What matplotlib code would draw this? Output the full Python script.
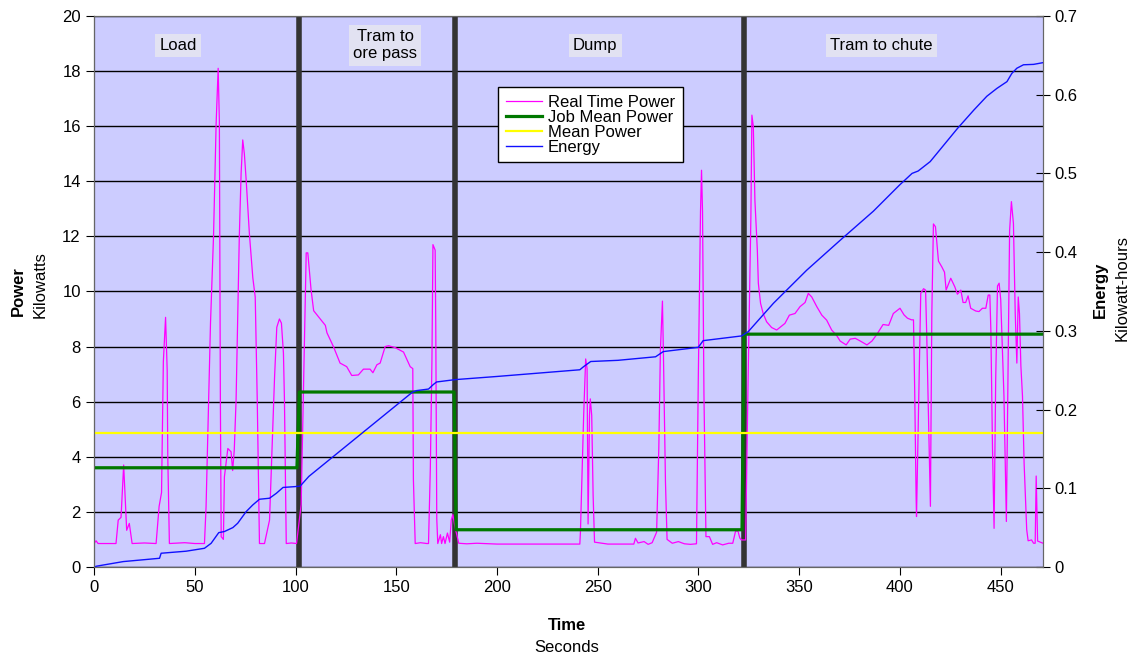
import matplotlib
matplotlib.use("Agg")
import matplotlib.pyplot as plt
from matplotlib.ticker import MultipleLocator, FuncFormatter

plt.rcParams['font.family'] = ['Liberation Sans', 'DejaVu Sans']

# Real time power (kW): time (s) and value
rt_time = [0, 1, 2, 4, 10.9, 12, 13.4, 14.7, 16.2, 17.5, 18.9, 25, 30.8, 32.3, 33.5, 34.4, 35.5, 36.3,
           36.6, 37.4, 45, 50, 54.8, 55.6, 57.8, 59.3, 60.6, 61.6, 62.2, 62.7, 63.1, 64.2, 64.7, 66.4,
           68.0, 68.8, 69.6, 70.5, 72.1, 73.0, 73.8, 74.6, 75.5, 77.1, 78.8, 80.0, 81.0, 82.1, 84.6,
           87.1, 89.6, 90.7, 92.0, 93.0, 94.0, 94.5, 95.4, 98, 100.5,
           102.8, 105.3, 106.1, 107.7, 109.0, 112.3, 114.8, 115.6, 118.8, 122.1, 125.4, 127.9, 131.2,
           133.7, 137, 138.4, 140.4, 142, 144.5, 146.2, 149.5, 153.6, 155.3, 156.9, 158.2, 158.5,
           159.4, 162, 165.2, 166, 166.9, 167.7, 168.2, 169.3, 169.6, 170.1, 170.6, 171.9, 172.5,
           173.4, 174.2, 175.4, 176.5, 177.3, 178.1, 179.0,
           181.0, 185, 190, 200, 220, 241.1, 241.4, 243.0, 244.0, 244.7, 245.2, 245.9, 246.3, 247.0,
           247.7, 248.4, 255, 267.9, 268.7, 270, 273, 275, 277, 279.2, 280.3, 281.1, 282.1, 282.6,
           283.6, 284.4, 287, 290, 293, 296, 299.0, 299.9, 301.0, 301.5, 302.0, 302.7, 303.7, 305.4,
           307, 309, 312, 315, 317, 318.4, 319.6, 320.5, 321.3,
           323.4, 324.6, 326.0, 326.5, 327.2, 328.0, 329.2, 329.7, 330.8, 332.1, 333.8, 336.3, 338.8,
           341.2, 342.9, 345.1, 347.9, 350.4, 352.9, 354.5, 356.2, 358.7, 361.2, 363.6, 366.1, 368.6,
           370.3, 373.3, 375.3, 377.8, 380.3, 383.6, 386.1, 388.6, 391.6, 394.4, 396.7, 400.0, 402.0,
           403.7, 405.7, 406.7, 407.3, 408.0, 408.2, 409.2, 410.3, 411.7, 412.7, 413.3, 414.1, 415.1,
           415.8, 416.6, 417.6, 419.1, 420.7, 422.1, 422.9, 425.2, 427.2, 428.5, 430.2, 431.3, 432.6,
           433.8, 435.1, 437.6, 439.2, 440.9, 442.6, 443.8, 444.6, 445.1, 445.9, 446.7, 447.5, 448.4,
           449.2, 450.0, 451.6, 452.8, 453.6, 454.4, 455.3, 456.3, 457.2, 458.0, 458.7, 459.3, 460.0,
           460.8, 461.6, 462.9, 463.6, 465.3, 466.3, 467.1, 467.6, 468.3, 471]
rt_power = [0.85, 0.95, 0.85, 0.85, 0.85, 1.7, 1.8, 3.7, 1.33, 1.58, 0.85, 0.87, 0.85, 2.2, 2.7, 7.45,
            9.06, 7.15, 4.0, 0.85, 0.88, 0.85, 0.85, 2.18, 8.85, 12.0, 16.1, 18.1, 16.2, 6.06, 1.1,
            1.0, 3.27, 4.3, 4.18, 3.5, 4.25, 6.06, 12.0, 14.3, 15.5, 15.0, 14.05, 12.1, 10.5, 9.8,
            6.06, 0.85, 0.85, 1.7, 6.9, 8.7, 9.0, 8.85, 7.76, 6.06, 0.85, 0.87, 0.85,
            2.27, 11.4, 11.4, 10.07, 9.3, 9.0, 8.77, 8.5, 8.0, 7.4, 7.27, 6.95, 6.97, 7.18, 7.18,
            7.05, 7.34, 7.4, 8.0, 8.03, 7.96, 7.8, 7.53, 7.27, 7.2, 3.18, 0.85, 0.88, 0.85, 0.85,
            3.57, 7.47, 11.7, 11.5, 8.77, 1.75, 0.85, 1.17, 0.85, 1.1, 0.85, 1.23, 0.9, 1.7, 1.9,
            1.5,
            0.86, 0.84, 0.86, 0.83, 0.83, 0.83, 1.26, 5.49, 7.55, 7.2, 1.56, 5.5, 6.1, 5.5, 2.6, 0.9,
            0.83, 0.83, 1.04, 0.87, 0.92, 0.82, 0.88, 1.26, 4.3, 7.9, 9.65, 7.7, 3.1, 1.0, 0.86, 0.92,
            0.84, 0.82, 0.84, 6.85, 12.9, 14.4, 12.9, 6.3, 1.1, 1.1, 0.82, 0.88, 0.8, 0.86, 0.86,
            1.3, 1.3, 1.05, 0.98,
            0.98, 6.7, 12.7, 16.4, 16.0, 13.3, 11.5, 10.3, 9.57, 9.2, 8.9, 8.69, 8.6, 8.74, 8.84, 9.14,
            9.2, 9.45, 9.6, 9.93, 9.8, 9.45, 9.14, 8.96, 8.6, 8.4, 8.2, 8.06, 8.27, 8.3, 8.2, 8.06,
            8.2, 8.45, 8.8, 8.77, 9.2, 9.39, 9.15, 9.03, 8.97, 8.97, 6.43, 2.56, 1.83, 5.6, 9.93,
            10.1, 10.05, 8.35, 5.6, 2.2, 9.2, 12.45, 12.35, 11.1, 10.9, 10.7, 10.05, 10.48, 10.17,
            9.9, 10.05, 9.6, 9.6, 9.84, 9.39, 9.29, 9.27, 9.39, 9.39, 9.87, 9.87, 8.6, 4.36, 1.4,
            6.8, 10.2, 10.3, 9.7, 6.2, 1.65, 6.8, 12.2, 13.26, 12.47, 9.2, 7.4, 9.8, 9.2, 7.3, 6.2,
            3.77, 1.35, 0.95, 0.98, 0.86, 0.86, 3.3, 0.94, 0.86]

# Job mean power (kW) per phase, drawn as steps
job_time = [0, 100.7, 101.9, 178.7, 179.7, 321.6, 322.6, 471]
job_power = [3.6, 3.6, 6.35, 6.35, 1.35, 1.35, 8.45, 8.45]

# Mean power over the whole cycle (kW)
mean_power = 4.88

# Cumulative energy (kWh)
en_time = [0, 1.3, 14.5, 32.5, 33.3, 45.7, 54.8, 58.1, 61.9, 64.7, 68.9, 71.3, 75.5, 78.8, 82.1,
           87.1, 90.5, 93.8, 99.5, 102.3, 106.6, 158, 160, 166, 168.5, 170, 179.3, 200, 241.1,
           243.0, 246.5, 260, 278.7, 282.5, 299.9, 302.3, 321.4, 324.7, 337.2, 353.7, 370.3,
           386.8, 399.7, 406, 409, 415, 428.5, 436.7, 443.1, 448.1, 453.1, 455.5, 458,
           461.3, 466.3, 471]
energy = [0, 0.001, 0.0068, 0.011, 0.0174, 0.020, 0.0237, 0.030, 0.0436, 0.045, 0.050, 0.0555,
          0.0703, 0.0788, 0.086, 0.0873, 0.0936, 0.101, 0.102, 0.1027, 0.115, 0.222, 0.224, 0.226,
          0.232, 0.235, 0.238, 0.242, 0.2505, 0.2545, 0.261, 0.2625, 0.267, 0.2736, 0.279, 0.2875,
          0.2935, 0.299, 0.335, 0.377, 0.415, 0.452, 0.485, 0.5, 0.503, 0.515, 0.557, 0.5806,
          0.598, 0.608, 0.6166, 0.627, 0.6336, 0.638, 0.6385, 0.6407]

# Phase boundaries (s) and phase names
phase_edges = [101.5, 179.3, 322.6]
phase_names = ['Load', 'Tram to\nore pass', 'Dump', 'Tram to chute']
phase_label_x = [0.0885, 0.3066, 0.528, 0.830]

fig = plt.figure(figsize=(11.33, 6.6), dpi=100)
ax = fig.add_axes([0.083, 0.141, 0.8376, 0.8348])
ax.set_facecolor('#ccccff')
ax.set_xlim(0, 471)
ax.set_ylim(0, 20)
ax.yaxis.set_major_locator(MultipleLocator(2))
ax.xaxis.set_major_locator(MultipleLocator(50))
ax.grid(axis='y', color='black', linewidth=1.0)
ax.set_axisbelow(True)

for t in phase_edges:
    ax.axvline(t, color='#333333', linewidth=4, zorder=2)

l1, = ax.plot(rt_time, rt_power, color='#ff00ff', linewidth=0.9, zorder=3, label='Real Time Power')
l2, = ax.plot(job_time, job_power, color='#007800', linewidth=2.3, zorder=4, label='Job Mean Power')
l3 = ax.axhline(mean_power, color='#ffff00', linewidth=1.6, zorder=4, label='Mean Power')

ax2 = ax.twinx()
ax2.set_ylim(0, 0.7)
ax2.yaxis.set_major_locator(MultipleLocator(0.1))
ax2.yaxis.set_major_formatter(FuncFormatter(lambda v, p: '0' if abs(v) < 1e-9 else f'{v:.1f}'))
l4, = ax2.plot(en_time, energy, color='#1010ff', linewidth=1.0, label='Energy')

for a in (ax, ax2):
    for s in a.spines.values():
        s.set_color('#666666')
ax.spines['left'].set_color('black')
ax.tick_params(axis='both', labelsize=12, direction='out', length=6, color='black')
ax2.tick_params(axis='y', labelsize=12, direction='inout', length=10, color='black')

for name, xf in zip(phase_names, phase_label_x):
    ax2.text(xf, 0.947, name, transform=ax.transAxes, ha='center', va='center', fontsize=12,
             bbox=dict(boxstyle='square,pad=0.25', facecolor='#e2e2f2', edgecolor='none'))

leg = ax2.legend([l1, l2, l3, l4], ['Real Time Power', 'Job Mean Power', 'Mean Power', 'Energy'],
                 loc='upper left', bbox_to_anchor=(0.4257, 0.871), borderaxespad=0,
                 fontsize=12, fancybox=False, framealpha=1, edgecolor='black',
                 labelspacing=0.0, handlelength=2.2, handletextpad=0.35, borderpad=0.45)
leg.get_frame().set_linewidth(1.0)

fig.text(18 / 1133, 1 - 291 / 660, 'Power', rotation=90, ha='center', va='center',
         fontsize=12, fontweight='bold')
fig.text(40 / 1133, 1 - 285 / 660, 'Kilowatts', rotation=90, ha='center', va='center', fontsize=12)
fig.text(1100 / 1133, 1 - 290 / 660, 'Energy', rotation=90, ha='center', va='center',
         fontsize=12, fontweight='bold')
fig.text(1122 / 1133, 1 - 288 / 660, 'Kilowatt-hours', rotation=90, ha='center', va='center',
         fontsize=12)
fig.text(567 / 1133, 1 - 626 / 660, 'Time', ha='center', va='center', fontsize=12, fontweight='bold')
fig.text(567 / 1133, 1 - 648 / 660, 'Seconds', ha='center', va='center', fontsize=12)

fig.savefig('out.png', dpi=100)
